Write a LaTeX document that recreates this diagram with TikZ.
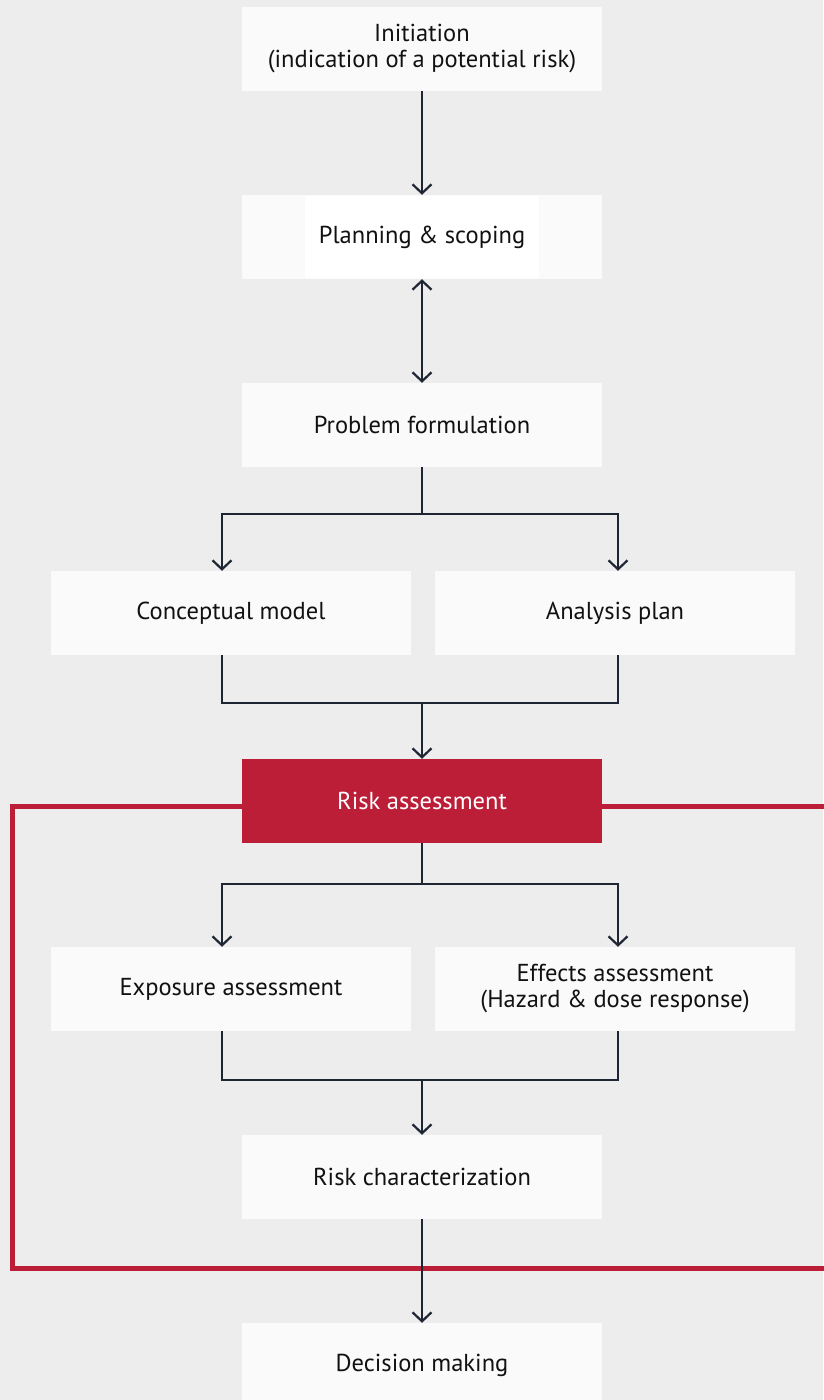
\documentclass[tikz,border=0pt]{standalone}
\usepackage{fontspec}
\setmainfont{PT Sans}
\usetikzlibrary{arrows.meta}
\definecolor{bg}{HTML}{EDEDED}
\definecolor{boxfill}{HTML}{FAFAFA}
\definecolor{ink}{HTML}{1E2533}
\definecolor{txt}{HTML}{111111}
\definecolor{riskred}{HTML}{BC1E38}
\begin{document}
\begin{tikzpicture}[x=1pt,y=-1pt,
  box/.style={fill=boxfill, minimum width=360pt, minimum height=84pt, inner sep=0pt,
    align=center, text=txt, font=\fontsize{24.5}{26}\selectfont},
  redbox/.style={box, fill=riskred, text=white},
  link/.style={draw=ink, line width=2.4pt},
  tip/.tip={Straight Barb[length=9pt,width=19pt,line width=2.2pt]},
  arr/.style={link, -tip},
  frame/.style={draw=riskred, line width=5pt}]
  % canvas
  \fill[bg] (0,0) rectangle (823,1400);
  \useasboundingbox (0,0) rectangle (823,1400);

  % boxes
  \node[box] (init) at (422,49) {Initiation\\(indication of a potential risk)};
  \node[box] (plan) at (422,237) {};
  \fill[white] (305,196) rectangle (539,278);
  \node[box, fill=none] (plantext) at (422,237) {Planning \& scoping};
  \node[box] (prob) at (422,425) {Problem formulation};
  \node[box] (concept) at (231,613) {Conceptual model};
  \node[box] (anal) at (615,613) {Analysis plan};
  \node[redbox] (risk) at (422,801) {Risk assessment};
  \node[box] (expo) at (231,989) {Exposure assessment};
  \node[box] (effect) at (615,989) {Effects assessment\\(Hazard \& dose response)};
  \node[box] (char) at (422,1177) {Risk characterization};
  \node[box] (dec) at (422,1365) {Decision making};

  % red frame around the assessment stage
  \coordinate (fl) at (12,1268);
  \coordinate (fr) at (830,1268);
  \coordinate (ft) at (830,806);
  \draw[frame] ([yshift=-5pt]risk.west) -| (fl) -- (fr);
  \draw[frame] ([yshift=-5pt]risk.east) -- (ft);

  % junctions
  \coordinate (j1) at (422,514);
  \coordinate (j2) at (422,703);
  \coordinate (j3) at (422,884);
  \coordinate (j4) at (422,1080);

  % connectors
  \draw[arr] (init) -- (plan);
  \draw[link, tip-tip] (plan) -- (prob);

  \draw[link] (prob) -- (j1);
  \draw[arr] (j1) -| ([xshift=-9pt]concept.north);
  \draw[arr] (j1) -| ([xshift=3pt]anal.north);
  \draw[link] ([xshift=-9pt]concept.south) |- (j2) -| ([xshift=3pt]anal.south);
  \draw[arr] (j2) -- (risk);

  \draw[link] (risk) -- (j3);
  \draw[arr] (j3) -| ([xshift=-9pt]expo.north);
  \draw[arr] (j3) -| ([xshift=3pt]effect.north);
  \draw[link] ([xshift=-9pt]expo.south) |- (j4) -| ([xshift=3pt]effect.south);
  \draw[arr] (j4) -- (char);

  \draw[arr] (char) -- (dec);
\end{tikzpicture}
\end{document}
